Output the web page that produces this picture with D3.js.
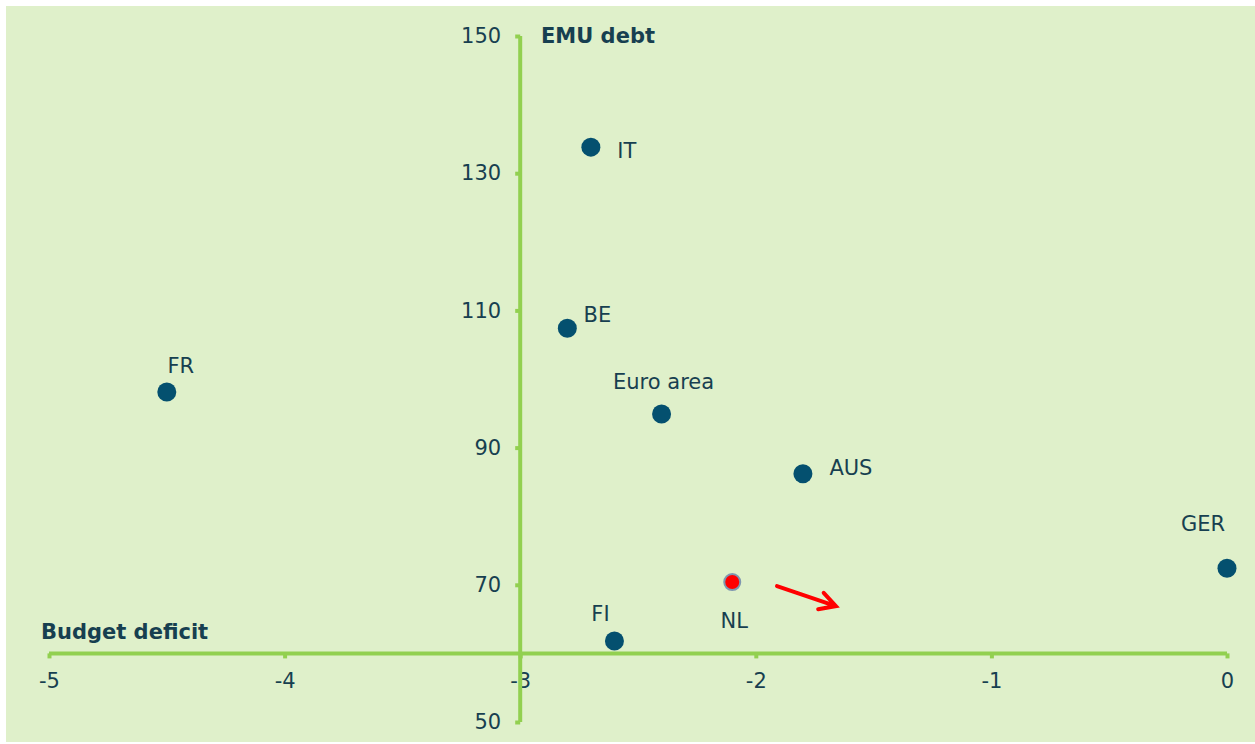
<!DOCTYPE html>
<html><head><meta charset="utf-8">
<script src="https://cdn.jsdelivr.net/npm/d3@7"></script>
<style>body{margin:0;background:#fff}svg{display:block}text{font-family:"DejaVu Sans",Verdana,sans-serif}</style>
</head><body><div id="chart"></div>
<script>
const countries = ["IT","BE","FR","Euro area","AUS","GER","NL","FI"];
const budgetDeficit = [-2.7,-2.8,-4.5,-2.4,-1.8,0.0,-2.1,-2.6];
const emuDebt = [133.8,107.4,98.1,94.9,86.2,72.4,70.4,61.8];
const xTicks = [-5,-4,-3,-2,-1,0];
const yTicks = [50,70,90,110,130,150];
const arrowFrom = [-1.91,69.8];
const arrowTo = [-1.66,66.9];
// label offsets (px) relative to each point: style only
const labelDx = [36,30,14,2,48,-24,2,-14];
const labelDy = [4,-14,-26,-32,-6,-45,39,-27];

const W=1255,H=744, FS=21;
const svg=d3.select("#chart").append("svg").attr("width",W).attr("height",H);
svg.append("rect").attr("x",6).attr("y",6).attr("width",W-6).attr("height",H-8).attr("fill","#dff0ca");

const x=d3.scaleLinear().domain([-5,0]).range([49,1227]);
const y=d3.scaleLinear().domain([50,150]).range([722,36]);
const axisCol="#92d050", txtCol="#173f50";

const gx=svg.append("g").attr("transform",`translate(0,${y(60)})`)
  .call(d3.axisBottom(x).tickValues(xTicks).tickFormat(d=>String(d)).tickSize(5).tickPadding(15));
const gy=svg.append("g").attr("transform",`translate(${x(-3)},0)`)
  .call(d3.axisLeft(y).tickValues(yTicks).tickSize(5).tickPadding(14));
[gx,gy].forEach(g=>{
  g.attr("font-size",FS).attr("font-family","DejaVu Sans, sans-serif");
  g.select(".domain").attr("stroke",axisCol).attr("stroke-width",4);
  g.selectAll(".tick line").attr("stroke",axisCol).attr("stroke-width",4);
  g.selectAll(".tick text").attr("fill",txtCol).attr("font-size",FS);
});
gx.select(".domain").attr("d",`M${x(-5)},0H${x(0)}`);
gy.select(".domain").attr("d",`M0,${y(150)}V${y(50)}`);

svg.append("text").attr("x",541).attr("y",43).attr("fill",txtCol).attr("font-weight","bold").attr("font-size",FS).text("EMU debt");
svg.append("text").attr("x",41).attr("y",639).attr("fill",txtCol).attr("font-weight","bold").attr("font-size",FS).text("Budget deficit");

const data=countries.map((c,i)=>({c,x:budgetDeficit[i],y:emuDebt[i],dx:labelDx[i],dy:labelDy[i]}));
svg.selectAll("circle.pt").data(data).join("circle").attr("class","pt")
  .attr("cx",d=>x(d.x)).attr("cy",d=>y(d.y)).attr("r",d=>d.c==="NL"?8:9.5)
  .attr("fill",d=>d.c==="NL"?"#ff0000":"#04506f")
  .attr("stroke",d=>d.c==="NL"?"#7f97b0":"none").attr("stroke-width",2);
svg.selectAll("text.lbl").data(data).join("text").attr("class","lbl")
  .attr("x",d=>x(d.x)+d.dx).attr("y",d=>y(d.y)+d.dy).attr("dy","0.35em")
  .attr("text-anchor","middle").attr("fill",txtCol).attr("font-size",FS).text(d=>d.c);

// arrow
const x1=x(arrowFrom[0]),y1=y(arrowFrom[1]),x2=x(arrowTo[0]),y2=y(arrowTo[1]);
const ang=Math.atan2(y2-y1,x2-x1), L=18, a=0.5;
svg.append("path").attr("d",`M${x1},${y1}L${x2},${y2}M${x2-L*Math.cos(ang-a)},${y2-L*Math.sin(ang-a)}L${x2},${y2}L${x2-L*Math.cos(ang+a)},${y2-L*Math.sin(ang+a)}`)
  .attr("fill","none").attr("stroke","#ff0000").attr("stroke-width",4).attr("stroke-linecap","round").attr("stroke-linejoin","miter");
</script></body></html>
